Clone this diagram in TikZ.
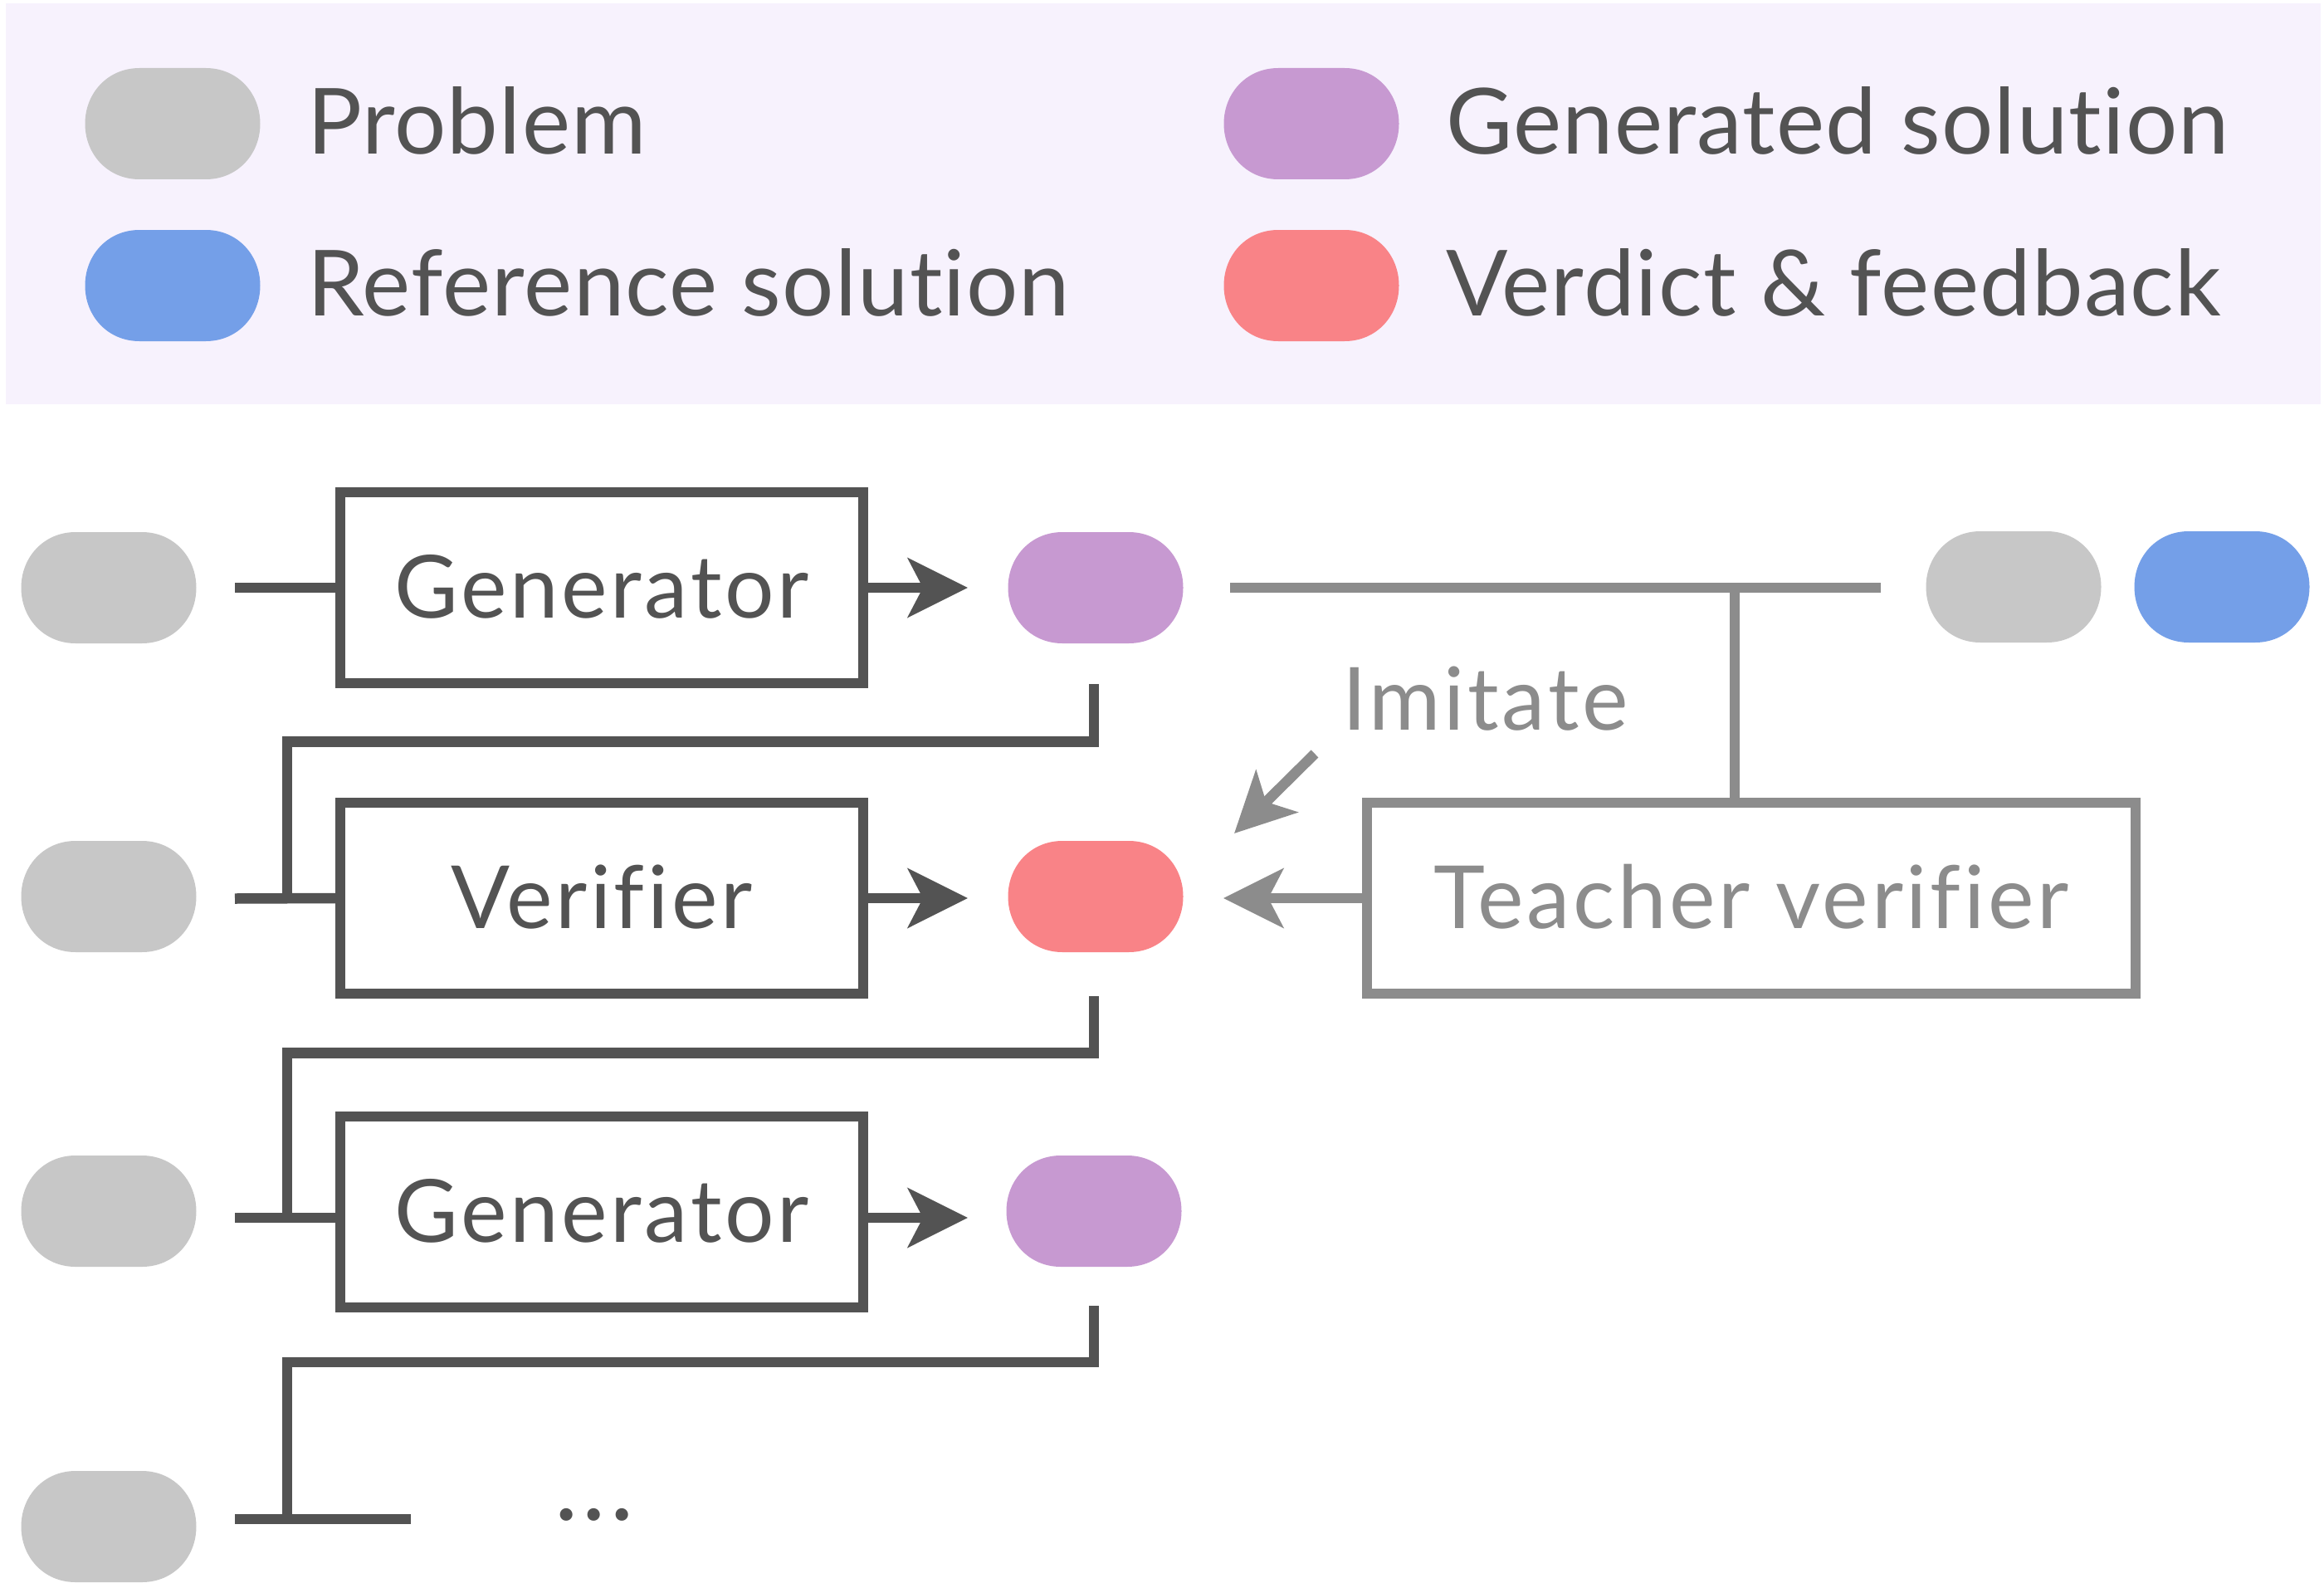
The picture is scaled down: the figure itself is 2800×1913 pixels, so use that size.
\documentclass[tikz,border=0pt]{standalone}
\usepackage{fontspec}
\setmainfont{Lato}
\newfontfamily\latofam{Lato}[LetterSpace=3.5, Ligatures=NoCommon]
\newfontfamily\latoleg{Lato}[LetterSpace=1.1, Ligatures=NoCommon]
\usetikzlibrary{arrows.meta}
\definecolor{dk}{HTML}{535353}
\definecolor{lg}{HTML}{8C8C8C}
\definecolor{pgray}{HTML}{C7C7C7}
\definecolor{ppurple}{HTML}{C799D1}
\definecolor{pblue}{HTML}{749FE8}
\definecolor{pred}{HTML}{F98387}
\definecolor{legbg}{HTML}{F7F2FD}
\newcommand{\mainfnt}{\latofam\fontsize{105pt}{120pt}\selectfont}
\newcommand{\legfnt}{\latoleg\fontsize{110pt}{130pt}\selectfont}
\newcommand{\dotfnt}{\latofam\fontsize{120pt}{130pt}\selectfont}
\begin{document}
\begin{tikzpicture}[x=1pt,y=-1pt,
  pill/.style={rectangle, minimum width=211pt, minimum height=134pt, inner sep=0pt, draw=none,
    path picture={\fill[#1, shift={(path picture bounding box.center)}]
      (-40,-67) -- (40,-67) .. controls (78,-67) and (105.5,-37) .. (105.5,0)
      .. controls (105.5,37) and (78,67) .. (40,67) -- (-40,67)
      .. controls (-78,67) and (-105.5,37) .. (-105.5,0)
      .. controls (-105.5,-37) and (-78,-67) .. (-40,-67) -- cycle;}},
  mbox/.style={rectangle, draw=dk, line width=12pt, minimum width=630pt, minimum height=230pt, inner sep=0pt, text height=72pt, text depth=0pt, text=dk, font=\mainfnt},
  tbox/.style={mbox, draw=lg, text=lg, minimum width=926pt},
  dline/.style={draw=dk, line width=12.5pt},
  gline/.style={draw=lg, line width=12.5pt},
  arr/.style={-{Stealth[length=72pt, width=71pt, inset=18pt]}},
  legtext/.style={anchor=base west, inner sep=0pt, text=dk, font=\legfnt}
]
\useasboundingbox (0,0) rectangle (2800,1913);
% legend
\fill[legbg] (7,4) rectangle (2796,487);
\node[pill=pgray] (lp) at (208,149) {};
\node[pill=pblue] (lr) at (208,344) {};
\node[pill=ppurple] (lg) at (1580,149) {};
\node[pill=pred] (lv) at (1580,344) {};
\node[legtext] (tp) at (370,186) {Problem};
\node[legtext] (tr) at (370,380) {Reference solution};
\node[legtext] (tg) at (1742,186) {Generated solution};
\node[legtext] (tv) at (1742,380) {Verdict \& feedback};

% row nodes
\node[pill=pgray] (p1) at (131,708) {};
\node[pill=pgray] (p2) at (131,1080) {};
\node[pill=pgray] (p3) at (131,1459) {};
\node[pill=pgray] (p4) at (131,1839) {};
\node[mbox] (g1) at (725,708) {Generator};
\node[mbox] (v2) at (725,1082) {Verifier};
\node[mbox] (g3) at (725,1460) {Generator};
\node[pill=ppurple] (s1) at (1320,708) {};
\node[pill=pred] (f2) at (1320,1080) {};
\node[pill=ppurple] (s3) at (1318,1459) {};
\node[pill=pgray] (tp1) at (2426,707) {};
\node[pill=pblue] (rs1) at (2677,707) {};
\node[tbox] (tv) at (2110,1082) {Teacher verifier};
\node[anchor=base west, inner sep=0pt, text=lg, font=\mainfnt] (im) at (1617,879) {Imitate};
\node[anchor=base, inner sep=0pt, text=dk, font=\dotfnt] (dots) at (716,1831) {.\kern5pt.\kern5pt.};

% coordinates
\coordinate (l1) at (283,708);
\coordinate (l2) at (283,1082.5);
\coordinate (l3) at (283,1467);
\coordinate (l4) at (283,1830);
\coordinate (e4) at (495,1830);
\coordinate (a1) at (1318,824);
\coordinate (a2) at (1318,1200);
\coordinate (a3) at (1318,1573);
\coordinate (t1) at (1166,708);
\coordinate (t2) at (1166,1082);
\coordinate (t3) at (1166,1467);
\coordinate (gl) at (1482,708);
\coordinate (gr) at (2266,708);
\coordinate (gj) at (2090,708);
\coordinate (tt) at (1474,1082);
\coordinate (ia) at (1584,908);
\coordinate (ib) at (1487,1004);

% dark connectors
\draw[dline] (l1) -- (g1.west);
\draw[dline] (l2) -- (v2.west);
\draw[dline] (l3) -- (g3.west |- l3);
\draw[dline] (l4) -- (e4);
\draw[dline, arr] (g1.east) -- (t1);
\draw[dline, arr] (v2.east) -- (t2);
\draw[dline, arr] (g3.east |- t3) -- (t3);
\draw[dline] (a1) |- (346,893.5) -- (346,1082);
\draw[dline] (a2) |- (346,1268.5) -- (346,1467);
\draw[dline] (a3) |- (346,1641) -- (346,1830);

% grey connectors
\draw[gline] (gl) -- (gr);
\draw[gline] (gj) -- (tv.north -| gj);
\draw[gline, arr] (tv.west) -- (tt);
\draw[gline, arr] (ia) -- (ib);
\end{tikzpicture}
\end{document}
